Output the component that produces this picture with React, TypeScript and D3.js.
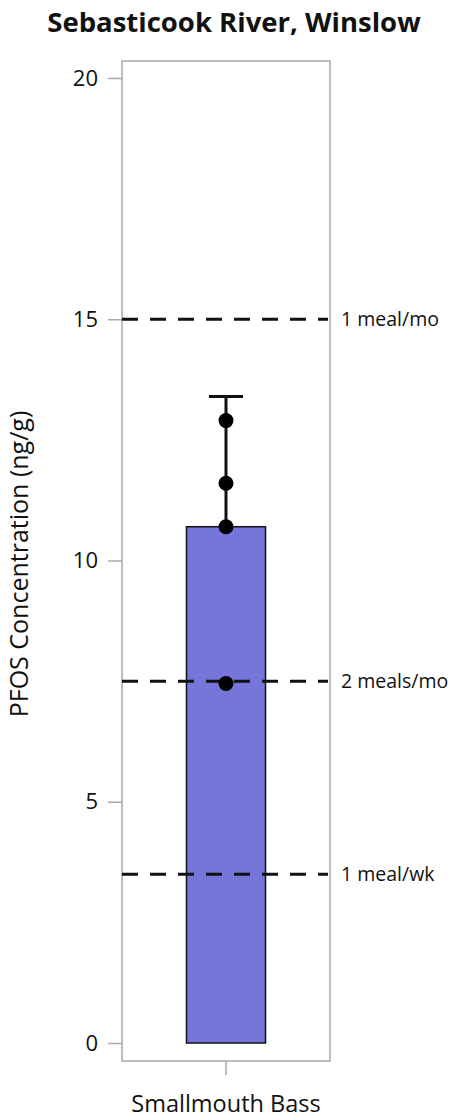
import React, { useEffect, useRef } from "react";
import * as d3 from "d3";

// data
const categories = ["Smallmouth Bass"];
const meanValues = [10.7];
const upperError = [13.4];
const samples = [12.9, 11.6, 10.7, 7.45];
const yTicks = [0, 5, 10, 15, 20];
const guideValues = [15, 7.5, 3.5];
const guideLabels = ["1 meal/mo", "2 meals/mo", "1 meal/wk"];

const FONT = "'Open Sans', sans-serif";

export default function App() {
  const ref = useRef<SVGSVGElement>(null);

  useEffect(() => {
    const svg = d3.select(ref.current);
    svg.selectAll("*").remove();

    const left = 122, right = 330, top = 61, bottom = 1061;
    const y = d3.scaleLinear().domain([0, 20]).range([1043, 78]);
    const x = d3.scaleBand().domain(categories).range([left, right]).paddingInner(0).paddingOuter(0.816);

    // title
    svg.append("text")
      .text("Sebasticook River, Winslow")
      .attr("x", 234).attr("y", 32)
      .attr("text-anchor", "middle")
      .attr("font-family", FONT).attr("font-weight", "bold").attr("font-size", 27.5)
      .attr("fill", "#111");

    // frame
    svg.append("rect")
      .attr("x", left).attr("y", top)
      .attr("width", right - left).attr("height", bottom - top)
      .attr("fill", "none").attr("stroke", "#a7abaf").attr("stroke-width", 1.5);

    // y axis
    const yAxis = svg.append("g")
      .attr("transform", `translate(${left},0)`)
      .call(d3.axisLeft(y).tickValues(yTicks).tickSize(14).tickPadding(10));
    yAxis.select(".domain").remove();
    yAxis.selectAll("line").attr("stroke", "#a7abaf").attr("stroke-width", 1.5);
    yAxis.selectAll("text")
      .attr("font-family", FONT).attr("font-size", 22).attr("fill", "#111");

    // x axis
    const xAxis = svg.append("g")
      .attr("transform", `translate(0,${bottom})`)
      .call(d3.axisBottom(x).tickSize(14).tickPadding(20));
    xAxis.select(".domain").remove();
    xAxis.selectAll("line").attr("stroke", "#a7abaf").attr("stroke-width", 1.5);
    xAxis.selectAll("text")
      .attr("font-family", FONT).attr("font-size", 23.5).attr("fill", "#111");

    // y label
    svg.append("text")
      .text("PFOS Concentration (ng/g)")
      .attr("transform", `translate(28,564) rotate(-90)`)
      .attr("text-anchor", "middle")
      .attr("font-family", FONT).attr("font-size", 25)
      .attr("fill", "#111");

    // bars
    svg.selectAll("rect.bar")
      .data(categories)
      .enter().append("rect")
      .attr("class", "bar")
      .attr("x", d => x(d)!)
      .attr("width", x.bandwidth())
      .attr("y", (d, i) => y(meanValues[i]))
      .attr("height", (d, i) => y(0) - y(meanValues[i]))
      .attr("fill", "#7675d9")
      .attr("stroke", "#111").attr("stroke-width", 1.5);

    // guide lines
    guideValues.forEach((v, i) => {
      svg.append("line")
        .attr("x1", left).attr("x2", right - 2)
        .attr("y1", y(v)).attr("y2", y(v))
        .attr("stroke", "#111").attr("stroke-width", 3)
        .attr("stroke-dasharray", "16 12");
      svg.append("text")
        .text(guideLabels[i])
        .attr("x", 341).attr("y", y(v))
        .attr("dy", "0.35em")
        .attr("font-family", FONT).attr("font-size", 19.5)
        .attr("fill", "#111");
    });

    // error bar
    categories.forEach((c, i) => {
      const cx = x(c)! + x.bandwidth() / 2;
      svg.append("line")
        .attr("x1", cx).attr("x2", cx)
        .attr("y1", y(meanValues[i])).attr("y2", y(upperError[i]))
        .attr("stroke", "#111").attr("stroke-width", 3);
      svg.append("line")
        .attr("x1", cx - 17).attr("x2", cx + 17)
        .attr("y1", y(upperError[i])).attr("y2", y(upperError[i]))
        .attr("stroke", "#111").attr("stroke-width", 3);
    });

    // sample points
    const cx0 = x(categories[0])! + x.bandwidth() / 2;
    svg.selectAll("circle")
      .data(samples)
      .enter().append("circle")
      .attr("cx", cx0)
      .attr("cy", d => y(d))
      .attr("r", 7.5)
      .attr("fill", "#000");
  }, []);

  return (
    <svg ref={ref} width={455} height={1118}
      style={{ position: "absolute", left: 0, top: 0, background: "#fff" }} />
  );
}
